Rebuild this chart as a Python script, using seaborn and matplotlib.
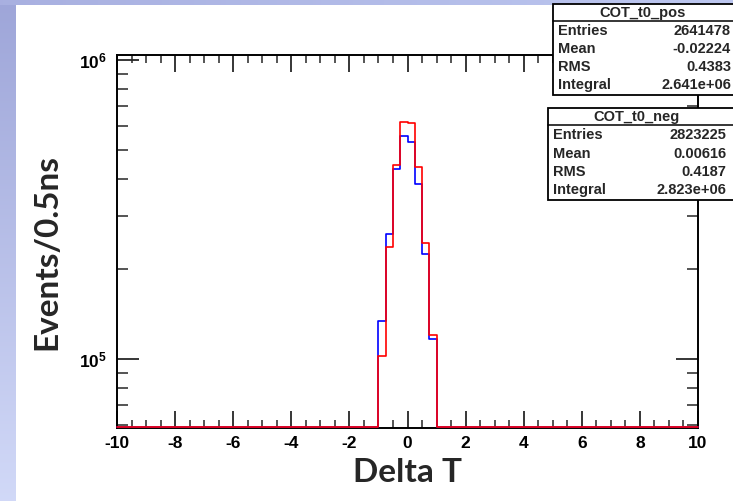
import numpy as np
import pandas as pd
import matplotlib
matplotlib.use("Agg")
import matplotlib.pyplot as plt
from matplotlib.patches import Rectangle
from matplotlib.ticker import MultipleLocator, LogLocator, FuncFormatter, NullFormatter
import seaborn as sns

# ---------------- data ----------------
bin_edges_nonzero = [-1.0, -0.75, -0.5, -0.25, 0.0, 0.25, 0.5, 0.75, 1.0]
pos_counts = [1.34e5, 2.62e5, 4.31e5, 5.55e5, 5.33e5, 3.84e5, 2.24e5, 1.17e5]   # COT_t0_pos (blue)
neg_counts = [1.02e5, 2.37e5, 4.45e5, 6.22e5, 6.15e5, 4.37e5, 2.45e5, 1.20e5]   # COT_t0_neg (red)
x_range = [-10, 10]
bin_width = 0.25
x_ticks = [-10, -8, -6, -4, -2, 0, 2, 4, 6, 8, 10]
stats_pos = [("Entries", "2641478"), ("Mean", "-0.02224"), ("RMS", "0.4383"), ("Integral", "2.641e+06")]
stats_neg = [("Entries", "2823225"), ("Mean", "0.00616"), ("RMS", "0.4187"), ("Integral", "2.823e+06")]
x_label = "Delta T"
y_label = "Events/0.5ns"

# ---------------- style ----------------
sns.set_style("white")
plt.rcParams["font.family"] = ["Liberation Sans", "DejaVu Sans"]
plt.rcParams["mathtext.fontset"] = "custom"
plt.rcParams["mathtext.bf"] = "Liberation Sans:bold"
plt.rcParams["mathtext.rm"] = "Liberation Sans"

W, H = 733, 501
fig = plt.figure(figsize=(W / 100, H / 100), dpi=100)
fig.patch.set_facecolor("white")

def fx(px):
    return px / W

def fy(py):
    return 1 - py / H

# slide background bands
band = fig.add_axes([0, 0, fx(16), 1])
grad = np.linspace(0, 1, 256)[:, None]
c_top = np.array([0.62, 0.65, 0.85])
c_bot = np.array([0.82, 0.85, 0.97])
img = c_top[None, None, :] * (1 - grad[:, :, None]) + c_bot[None, None, :] * grad[:, :, None]
band.imshow(img, aspect="auto", extent=[0, 1, 0, 1])
band.axis("off")
topband = fig.add_axes([0, fy(5), 1, 5 / H])
hgrad = np.linspace(0, 1, 256)[None, :]
c_l = np.array([0.66, 0.69, 0.88])
c_r = np.array([0.74, 0.78, 0.94])
img2 = c_l[None, None, :] * (1 - hgrad[:, :, None]) + c_r[None, None, :] * hgrad[:, :, None]
topband.imshow(img2, aspect="auto", extent=[0, 1, 0, 1])
topband.axis("off")

# main axes: frame left 117, right 698, top 55, bottom 428
ax = fig.add_axes([fx(117), fy(428), fx(698) - fx(117), (428 - 55) / H])
ax.set_facecolor("white")

ymin, ymax = 5.88e4, 1.039e6

# full histogram bins
edges = np.arange(x_range[0], x_range[1] + bin_width / 2, bin_width)
centers = (edges[:-1] + edges[1:]) / 2

def full_counts(vals):
    out = np.zeros(len(centers))
    for lo, v in zip(bin_edges_nonzero[:-1], vals):
        i = int(round((lo - x_range[0]) / bin_width))
        out[i] = v
    return np.maximum(out, ymin * 1.004)  # empty bins drawn at the frame bottom like ROOT

df_pos = pd.DataFrame({"dt": centers, "w": full_counts(pos_counts)})
df_neg = pd.DataFrame({"dt": centers, "w": full_counts(neg_counts)})

sns.histplot(data=df_pos, x="dt", weights="w", bins=list(edges), element="step",
             fill=False, color="#0000ff", linewidth=1.2, ax=ax)
sns.histplot(data=df_neg, x="dt", weights="w", bins=list(edges), element="step",
             fill=False, color="#ff0000", linewidth=1.2, ax=ax)
for ln in ax.lines:
    ln.set_zorder(3)
    ln.set_clip_on(False)
for c in ax.collections:
    c.set_zorder(3)
    c.set_clip_on(False)

ax.set_yscale("log")
ax.set_xlim(*x_range)
ax.set_ylim(ymin, ymax)
ax.set_xlabel("")
ax.set_ylabel("")

ax.set_xticks(x_ticks)
ax.set_xticklabels([str(t) for t in x_ticks])
ax.xaxis.set_minor_locator(MultipleLocator(0.5))
ax.yaxis.set_major_locator(LogLocator(base=10, numticks=10))
ax.yaxis.set_minor_locator(LogLocator(base=10, subs=np.arange(2, 10), numticks=20))
ax.yaxis.set_major_formatter(FuncFormatter(lambda v, p: r"$\mathbf{10^{%d}}$" % int(round(np.log10(v)))))
ax.yaxis.set_minor_formatter(NullFormatter())

ax.tick_params(axis="x", which="major", direction="in", top=True, bottom=True, length=12, width=1.3,
               pad=6, labelsize=12.5, labelcolor="black")
ax.tick_params(axis="x", which="minor", direction="in", top=True, bottom=True, length=6, width=1.1)
ax.tick_params(axis="y", which="major", direction="in", left=True, right=True, length=16, width=1.3,
               pad=7, labelsize=12.5, labelcolor="black")
ax.tick_params(axis="y", which="minor", direction="in", left=True, right=True, length=8, width=1.1)
for lab in ax.get_xticklabels():
    lab.set_fontweight("bold")
for s in ax.spines.values():
    s.set_visible(True)
    s.set_color("black")
    s.set_linewidth(1.4)
    s.set_zorder(2.5)

# axis titles
fig.text(fx(407), fy(473), x_label, ha="center", va="center", fontsize=24,
         fontweight="bold", family=["Lato", "DejaVu Sans"])
fig.text(fx(47), fy(252), y_label, ha="center", va="center", rotation=90, fontsize=24,
         fontweight="bold", family=["Lato", "DejaVu Sans"])

# stat boxes
def stat_box(left, top, bottom, sep, title, title_cx, rows, row_ys, val_right):
    rect = Rectangle((fx(left), fy(bottom)), fx(745) - fx(left), (bottom - top) / H,
                     transform=fig.transFigure, facecolor="white", edgecolor="black",
                     linewidth=1.3, zorder=5)
    fig.add_artist(rect)
    fig.add_artist(plt.Line2D([fx(left), fx(745)], [fy(sep), fy(sep)], transform=fig.transFigure,
                              color="black", linewidth=1.1, zorder=6))
    fig.text(fx(title_cx), fy((top + sep) / 2 + 0.5), title, ha="center", va="center",
             fontsize=10.5, fontweight="bold", zorder=7)
    for (k, v), yy in zip(rows, row_ys):
        fig.text(fx(left + 5), fy(yy), k, ha="left", va="center", fontsize=10.5, fontweight="bold", zorder=7)
        fig.text(fx(val_right), fy(yy), v, ha="right", va="center", fontsize=10.5, fontweight="bold", zorder=7)

stat_box(553, 4, 95, 21, "COT_t0_pos", 643, stats_pos, [31, 49, 67, 85], 731)
stat_box(548, 108, 200, 125, "COT_t0_neg", 637, stats_neg, [135, 154, 172, 190], 726)

fig.savefig("out.png", dpi=100, facecolor="white")
